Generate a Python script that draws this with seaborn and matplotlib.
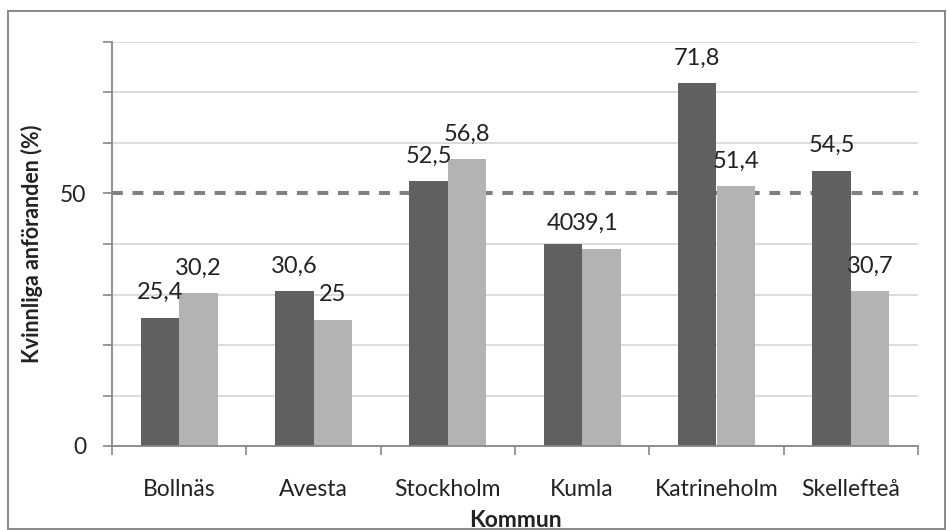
import matplotlib
matplotlib.use("Agg")
import matplotlib.pyplot as plt
from matplotlib.patches import Rectangle
from matplotlib.ticker import FixedLocator, NullFormatter
import seaborn as sns
import pandas as pd
import numpy as np

# Data
kommuner = ["Bollnäs", "Avesta", "Stockholm", "Kumla", "Katrineholm", "Skellefteå"]
serie_namn = ["Serie 1", "Serie 2"]
serie_1 = [25.4, 30.6, 52.5, 40, 71.8, 54.5]
serie_2 = [30.2, 25, 56.8, 39.1, 51.4, 30.7]
referenslinje = 50
y_ticks_labels = [0, 50]

df = pd.DataFrame({
    "Kommun": kommuner * 2,
    "Andel": serie_1 + serie_2,
    "Serie": [serie_namn[0]] * len(kommuner) + [serie_namn[1]] * len(kommuner),
})

sns.set_style("white")
plt.rcParams["font.family"] = ["Lato", "DejaVu Sans"]

DARK = "#606060"
LIGHT = "#b3b3b3"
TEXT = "#222222"
AXIS = "#868686"
GRID = "#d9d9d9"

W, H = 947, 530
fig = plt.figure(figsize=(W / 100, H / 100), dpi=100)
fig.patch.set_facecolor("white")

# outer chart border
fig.add_artist(Rectangle((7.5 / W, 1 - 529 / H), (944.5 - 7.5) / W, (529 - 10.5) / H,
                         transform=fig.transFigure, fill=False,
                         edgecolor="#888888", linewidth=1.4))

ax = fig.add_axes([112 / W, 84 / H, 806 / W, 404 / H])

# reference line at 50 %, behind the bars
ax.axhline(referenslinje, color="#808080", linewidth=2.9,
           linestyle=(0, (2.7, 2.4)), zorder=1.5)

sns.barplot(data=df, x="Kommun", y="Andel", hue="Serie",
            palette=[DARK, LIGHT], saturation=1, width=0.573, gap=0,
            legend=False, ax=ax, zorder=2, linewidth=0)

ax.set_xlim(-0.5, len(kommuner) - 0.5)
ax.set_ylim(0, 80)

# gridlines every 10, labels only at 0 and 50
ax.yaxis.set_major_locator(FixedLocator(y_ticks_labels))
ax.yaxis.set_minor_locator(FixedLocator(np.arange(10, 81, 10)))
ax.yaxis.set_minor_formatter(NullFormatter())
ax.grid(False)
for yv in np.arange(10, 81, 10):
    if yv != referenslinje:
        ax.axhline(yv, color=GRID, linewidth=1.3, zorder=0.5)

ax.xaxis.set_minor_locator(FixedLocator(np.arange(-0.5, len(kommuner), 1.0)))
ax.tick_params(axis="x", which="major", length=0, pad=24, labelsize=16.5, labelcolor=TEXT)
ax.tick_params(axis="x", which="minor", length=6.5, width=1.2, color=AXIS, direction="out", bottom=True)
ax.tick_params(axis="y", which="both", length=6.5, width=1.2, color=AXIS, direction="out", left=True)
ax.tick_params(axis="y", which="major", pad=12, labelsize=16.5, labelcolor=TEXT)

for side in ["top", "right"]:
    ax.spines[side].set_visible(False)
for side in ["left", "bottom"]:
    ax.spines[side].set_color(AXIS)
    ax.spines[side].set_linewidth(1.3)
    ax.spines[side].set_zorder(3)

ax.set_ylabel("Kvinnliga anföranden (%)", fontsize=15.5, fontweight="bold", color=TEXT)
ax.yaxis.set_label_coords(-0.0856, 0.5)
ax.set_xlabel("Kommun", fontsize=16.5, fontweight="bold", color=TEXT)
ax.xaxis.set_label_coords(0.5, -0.158)

# value labels
def fmt(v):
    return f"{v:g}".replace(".", ",")

nudge = {("Serie 1", "Kumla"): (-2, 14), ("Serie 2", "Kumla"): (-6, 18.5)}
for container, name, vals in zip(ax.containers, serie_namn, [serie_1, serie_2]):
    for bar, kom, v in zip(container, kommuner, vals):
        dx, dy = nudge.get((name, kom), (0, 18.5))
        ax.annotate(fmt(v), (bar.get_x() + bar.get_width() / 2, v),
                    xytext=(dx, dy), textcoords="offset pixels",
                    ha="center", va="baseline", fontsize=17, color=TEXT, zorder=4)

fig.savefig("out.png", dpi=100)
